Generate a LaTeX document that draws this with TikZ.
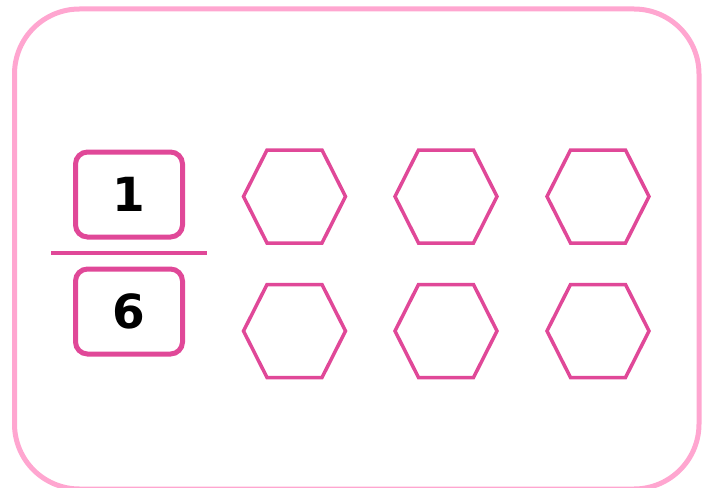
\documentclass[tikz,border=0pt]{standalone}
\usepackage{fontspec}
\newfontfamily\digitfont{DejaVu Sans Bold}
\definecolor{framepink}{RGB}{255,166,208}
\definecolor{cellpink}{RGB}{224,72,152}
\tikzset{
  fracbox/.style={draw=cellpink,line width=5pt,rounded corners=12pt,
    minimum width=107pt,minimum height=85pt,inner sep=0pt,
    font=\digitfont\fontsize{47}{47}\selectfont},
  hexcell/.style={draw=cellpink,line width=3.5pt,line join=miter}
}
\begin{document}
\begin{tikzpicture}[x=1pt,y=-1pt]
  \useasboundingbox (0,0) rectangle (709,487);
  % outer frame
  \draw[framepink,line width=5pt,rounded corners=65pt] (14.5,9) rectangle (699,489);
  % fraction
  \node[fracbox] (num) at (129,194.5) {1};
  \node[fracbox] (den) at (129,311.5) {6};
  \draw[cellpink,line width=4pt] (51,253) -- (207,253);
  % hexagons
  \foreach \cx in {294.5,446,598}
    \foreach \cy in {196.5,331}
      \draw[hexcell,shift={(\cx,\cy)}] (-51,0) -- (-27.5,-46.5) -- (27.5,-46.5)
        -- (51,0) -- (27.5,46.5) -- (-27.5,46.5) -- cycle;
\end{tikzpicture}
\end{document}
